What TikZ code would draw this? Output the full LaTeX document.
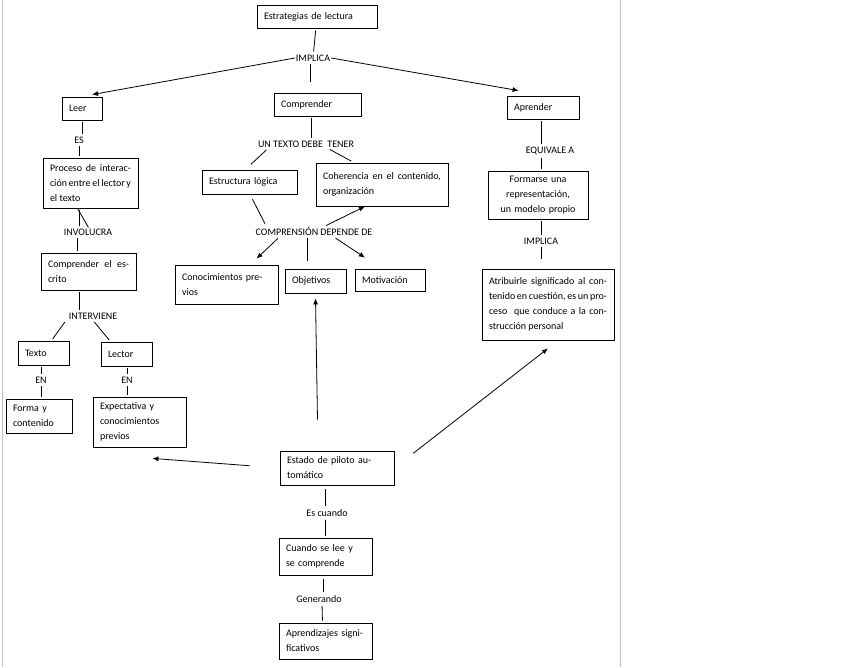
\documentclass[tikz,border=0pt]{standalone}
\usepackage{fontspec}
\setmainfont{Carlito}
\usetikzlibrary{arrows.meta}

\begin{document}
\begin{tikzpicture}[
  x=1pt, y=-1pt,
  every node/.style={font=\fontsize{10}{15}\selectfont},
  box/.style={draw, thick, inner ysep=0pt, inner xsep=7pt, align=justify},
  lbl/.style={inner sep=1pt},
  link/.style={thick, shorten >=2pt, shorten <=2pt},
  arrow/.style={-{Latex[length=6pt,width=5pt]}, thick},
  ]
\useasboundingbox (0,0) rectangle (864,667);
\draw[gray!50, thick] (2,0) -- (2,667);
\draw[gray!50, thick] (620,0) -- (620,667);

% boxes
\node[box, minimum width=120, minimum height=23, text width=106, align=left] (title) at (317,16.5) {Estrategias de lectura};
\node[box, minimum width=40, minimum height=23, text width=26, align=left] (leer) at (82,108.5) {Leer};
\node[box, minimum width=87, minimum height=23, text width=73, align=left] (comp) at (317.5,104.5) {Comprender};
\node[box, minimum width=72, minimum height=23, text width=58, align=left] (aprender) at (543,107.5) {Aprender};
\node[box, minimum width=95, minimum height=50, text width=81] (proceso) at (90.5,183) {Proceso de interacción entre el lector y el texto};
\node[box, minimum width=95, minimum height=37, text width=81] (escrito) at (88.5,271.5) {Comprender el escrito};
\node[box, minimum width=51, minimum height=24, text width=37, align=left] (texto) at (43.5,353) {Texto};
\node[box, minimum width=51, minimum height=24, text width=37, align=left] (lector) at (126.5,354) {Lector};
\node[box, minimum width=66, minimum height=34, text width=52, align=left] (forma) at (39,416) {Forma y contenido};
\node[box, minimum width=93, minimum height=50, text width=79, align=left] (expect) at (139.5,422) {Expectativa y conocimientos previos};
\node[box, minimum width=95, minimum height=24, text width=81, align=left] (estruct) at (249.5,182) {Estructura lógica};
\node[box, minimum width=132, minimum height=43, text width=118] (coher) at (382,184.5) {Coherencia en el contenido, organización};
\node[box, minimum width=103, minimum height=39, text width=89, align=left] (conoc) at (226.5,284.5) {Conocimientos previos};
\node[box, minimum width=61, minimum height=24, text width=47, align=left] (obj) at (315.5,281) {Objetivos};
\node[box, minimum width=70, minimum height=22, text width=56, align=left] (motiv) at (390,280) {Motivación};
\node[box, minimum width=100, minimum height=48, text width=90, align=center, inner xsep=5pt] (formarse) at (538,195) {Formarse una representación, un modelo propio};
\node[box, minimum width=132, minimum height=71, text width=118] (atrib) at (548,304.5) {Atribuirle significado al contenido en cuestión, es un proceso\ \ que conduce a la construcción personal};
\node[box, minimum width=114, minimum height=34, text width=100, align=left] (estado) at (337,468) {Estado de piloto automático};
\node[box, minimum width=93, minimum height=37, text width=79, align=left] (cuando) at (325.5,556.5) {Cuando se lee y se comprende};
\node[box, minimum width=93, minimum height=36, text width=79, align=left] (aprendiz) at (325.5,641) {Aprendizajes significativos};

% connector labels
\node[lbl] (implica) at (313,58) {IMPLICA};
\node[lbl] (untexto) at (306,144) {UN TEXTO DEBE\ \ TENER};
\node[lbl] (comprension) at (314,231) {COMPRENSIÓN DEPENDE DE};
\node[lbl] (es) at (79,140) {ES};
\node[lbl] (involucra) at (88,232) {INVOLUCRA};
\node[lbl] (interviene) at (93,316) {INTERVIENE};
\node[lbl] (en1) at (41,380) {EN};
\node[lbl] (en2) at (127,380) {EN};
\node[lbl] (equivale) at (550,151) {EQUIVALE A};
\node[lbl] (implicab) at (541,241) {IMPLICA};
\node[lbl] (escuando) at (327,513) {Es cuando};
\node[lbl] (generando) at (319,599) {Generando};

% left column
\draw[link] (leer.south) -- (es.north -| leer.south);
\draw[link] (es) -- (es |- proceso.north);
\draw[link] (proceso.south -| escrito.north) ++(-11,0) -- (involucra.north -| escrito.north) ++(-11,0);
\draw[link] ([xshift=-11pt]proceso.south) -- ([xshift=-11pt,yshift=0pt]proceso.south |- involucra.north);
\draw[link] ([xshift=-11pt]involucra.south) -- ([xshift=-11pt]involucra.south |- escrito.north);
\draw[link] ([xshift=-9pt]escrito.south) -- ([xshift=-9pt]escrito.south |- interviene.north);
\draw[link] ([xshift=-27pt]interviene.south) -- ([xshift=8pt]texto.north);
\draw[link] ([xshift=0pt]interviene.south) -- ([xshift=-16pt]lector.north);
\draw[link] (texto.south -| en1) -- (en1);
\draw[link] (en1) -- (en1 |- forma.north);
\draw[link] (lector.south -| en2) -- (en2);
\draw[link] (en2.south) -- (en2.south |- expect.north);

% centre
\draw[link] (title) -- (implica);
\draw[link, shorten >=11pt] ([xshift=-3pt]implica.south) -- ([xshift=-3pt]implica.south |- comp.north);
\draw[arrow] (implica.west) -- ([xshift=10pt,yshift=2pt]leer.north);
\draw[arrow] (implica.east) -- ([xshift=12pt,yshift=5pt]aprender.north west);
\draw[link] ([xshift=-6pt]comp.south) -- ([xshift=-6pt]comp.south |- untexto.north);
\draw[link] ([xshift=-38pt]untexto.south) -- ([yshift=4pt]estruct.north);
\draw[link, shorten >=3pt] ([xshift=22pt]untexto.south) -- ([xshift=-28pt]coher.north);
\draw[link] ([xshift=2pt,yshift=-3pt]estruct.south) -- ([xshift=-48pt]comprension.north);
\draw[arrow] ([xshift=12pt]comprension.north) -- ([xshift=-17pt]coher.south);
\draw[arrow, shorten <=3pt] ([xshift=-34pt]comprension.south) -- ([xshift=30pt,yshift=6pt]conoc.north);
\draw[link, shorten >=8pt] ([xshift=-7pt]comprension.south) -- ([xshift=-7pt]comprension.south |- obj.north);
\draw[arrow, shorten <=3pt] ([xshift=19pt]comprension.south) -- ([xshift=-25pt,yshift=11pt]motiv.north);

% right column
\draw[link] (aprender.south -| equivale.north) ++(-9,0) -- +(0,0);
\draw[link] ([xshift=-9pt]equivale.north |- aprender.south) -- ([xshift=-9pt]equivale.north);
\draw[link] ([xshift=-9pt]equivale.south) -- ([xshift=-9pt]equivale.south |- formarse.north);
\draw[link] (formarse.south -| implicab) -- (implicab);
\draw[link, shorten >=10pt] (implicab) -- (implicab |- atrib.north);

% bottom
\draw[arrow, shorten <=31pt] ([xshift=-19pt]estado.north) -- ([yshift=-5pt]obj.south);
\draw[arrow, shorten <=30pt] (estado.west) -- ([xshift=-34pt,yshift=-11pt]expect.south east);
\draw[arrow, shorten <=24pt] (estado.east) -- ([yshift=-8pt]atrib.south);
\draw[link, shorten <=4pt] ([xshift=-12pt]estado.south) -- ([xshift=-12pt]estado.south |- escuando.north);
\draw[link] (escuando.south -| cuando.north) -- (cuando.north);
\draw[link, shorten <=4pt] ([xshift=-2pt]cuando.south) -- ([xshift=-2pt]cuando.south |- generando.north);
\draw[link] ([xshift=3pt]generando.south) -- ([xshift=-3pt]aprendiz.north);
\end{tikzpicture}
\end{document}
